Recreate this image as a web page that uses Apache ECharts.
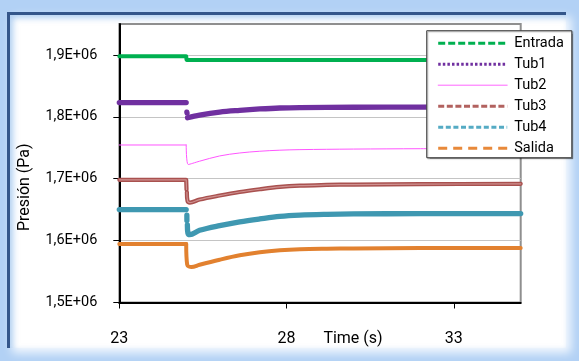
<!DOCTYPE html>
<html>
<head>
<meta charset="utf-8">
<script src="https://cdn.jsdelivr.net/npm/echarts@6/dist/echarts.min.js"></script>
<style>
  html, body { margin: 0; padding: 0; }
  #frame { position: absolute; left: 0; top: 0; width: 579px; height: 361px; background: #b2d1f5; overflow: hidden; }
  #panel { position: absolute; left: 7px; top: 12px; width: 556px; height: 333px; background: #ffffff;
           border-top: 3px solid #34568a; border-left: 3px solid #34568a;
           box-shadow: inset 3px 3px 6px rgba(110,165,230,0.55), 5px 5px 9px rgba(255,255,255,0.85); }
  #chart { position: absolute; left: 0; top: 0; width: 579px; height: 361px; }
</style>
</head>
<body>
<div id="frame"><div id="panel"></div></div>
<div id="chart"></div>
<script>
// Pressure transients (Pa) versus time (s); [t, p] pairs, null breaks the trace.
// Each trace: steady part before the valve event (straight) and the recovery after it (smoothed).
const entradaPre = [[23, 1898000], [25, 1898000], [25.01, 1892000], [35, 1892000]];
const entradaPost = [];

const tub1Pre = [[23, 1823000], [25, 1823000], [25.01, null], [25.02, 1807500], [25.025, 1806000]];
const tub1Post = [[25.04, 1798500], [25.4, 1802800], [26, 1807700], [26.6, 1810500], [27.2, 1812700],
  [27.8, 1814300], [28.4, 1815000], [30, 1815500], [32, 1815800], [35, 1816000]];

const tub2Pre = [[23, 1754500], [25, 1754500]];
const tub2Post = [[25, 1754500], [25.06, 1723000], [25.4, 1728300], [26, 1736800], [26.6, 1741600],
  [27.2, 1744400], [27.8, 1746100], [28.4, 1747000], [30, 1747900], [32, 1748500], [35, 1749000]];

const tub3Pre = [[23, 1698200], [25, 1698200], [25.01, 1682500]];
const tub3Post = [[25.02, 1678500], [25.04, 1664000], [25.11, 1661500], [25.4, 1666300], [26, 1672800],
  [26.6, 1678500], [27.2, 1683000], [27.8, 1686800], [28.4, 1688800], [29.2, 1689900], [30, 1690600],
  [32, 1691300], [35, 1691700]];

const tub4Pre = [[23, 1650100], [25, 1650100], [25.01, null], [25.02, 1641000], [25.021, 1632500]];
const tub4Post = [[25.035, 1625500], [25.05, 1612500], [25.11, 1609600], [25.4, 1616600], [26, 1624200],
  [26.6, 1630200], [27.2, 1635000], [27.8, 1639200], [28.4, 1641300], [29.2, 1642500], [30, 1643100],
  [32, 1643600], [35, 1643700]];

const salidaPre = [[23, 1594600], [25, 1594600]];
const salidaPost = [[25, 1594600], [25.03, 1561000], [25.16, 1557300], [25.4, 1561000], [26, 1569100],
  [26.6, 1576200], [27.2, 1581200], [27.8, 1584300], [28.4, 1586000], [29.2, 1586900], [30, 1587400],
  [32, 1587900], [35, 1588100]];

const seriesNames = ['Entrada', 'Tub1', 'Tub2', 'Tub3', 'Tub4', 'Salida'];
const xTicks = [23, 28, 33];
const yTicks = [1500000, 1600000, 1700000, 1800000, 1900000];

const chart = echarts.init(document.getElementById('chart'), null, { renderer: 'canvas' });
const font = 'Roboto';

function line(name, data, color, width, smooth, z) {
  return {
    name: name, type: 'line', data: data, symbol: 'none', connectNulls: false,
    smooth: smooth, animation: false, z: z || 2,
    lineStyle: { color: color, width: width, cap: 'round', join: 'round' },
    itemStyle: { color: color }
  };
}
function trace(name, pre, post, color, width) {
  const out = [line(name, pre, color, width, false)];
  if (post.length) out.push(line(name, post, color, width, 0.35));
  return out;
}

const tub3Core = 'rgba(214,158,156,0.85)';

chart.setOption({
  backgroundColor: 'transparent',
  animation: false,
  grid: { left: 119.3, right: 58.3, top: 24, bottom: 58.5, show: true, outerBoundsMode: 'none',
          borderColor: '#8f8f8f', borderWidth: 2, backgroundColor: 'transparent' },
  xAxis: {
    type: 'value', min: 23, max: 35,
    name: 'Time (s)', nameLocation: 'middle', nameGap: 28, nameMoveOverlap: false,
    nameTextStyle: { fontFamily: font, fontSize: 16, color: '#000', padding: [0, 0, 0, 66] },
    axisLine: { lineStyle: { color: '#000', width: 2 } },
    axisTick: { show: true, length: 6, customValues: xTicks, lineStyle: { color: '#000', width: 1 } },
    axisLabel: { customValues: xTicks, margin: 28, fontFamily: font, fontSize: 16, color: '#000' },
    splitLine: { show: false }
  },
  yAxis: {
    type: 'value', min: 1500000, max: 1950000, interval: 100000,
    name: 'Presión (Pa)', nameLocation: 'middle', nameGap: 86, nameRotate: 90, nameMoveOverlap: false,
    nameTextStyle: { fontFamily: font, fontSize: 16, color: '#000', padding: [0, 48, 0, 0] },
    axisLine: { show: true, lineStyle: { color: '#000', width: 2 } },
    axisTick: { show: true, length: 6, customValues: yTicks, lineStyle: { color: '#000', width: 1 } },
    axisLabel: {
      customValues: yTicks, margin: 22, fontFamily: font, fontSize: 14.5, color: '#000',
      formatter: v => (v / 1e6).toFixed(1).replace('.', ',') + 'E+06'
    },
    splitLine: { show: true, lineStyle: { color: '#c4c4c4', width: 1 } }
  },
  legend: {
    orient: 'vertical', left: 426.7, top: 30.7,
    padding: [5, 8, 2, 10], itemGap: 6, itemWidth: 69, itemHeight: 15,
    backgroundColor: '#ffffff', borderColor: '#404040', borderWidth: 1,
    shadowColor: 'rgba(0,0,0,0.35)', shadowBlur: 1, shadowOffsetX: 1, shadowOffsetY: 1,
    itemStyle: { opacity: 0 },
    textStyle: { fontFamily: font, fontSize: 14.5, color: '#000', padding: [0, 0, 0, 2] },
    data: [
      { name: seriesNames[0], lineStyle: { type: [7, 3], width: 3, cap: 'butt' } },
      { name: seriesNames[1], lineStyle: { type: [2.5, 2.1], width: 3, cap: 'butt' } },
      { name: seriesNames[2], lineStyle: { type: 'solid', width: 1, color: '#ff66ff' } },
      { name: seriesNames[3], lineStyle: { type: [6, 2.6], width: 3, cap: 'butt', color: '#b2625f' } },
      { name: seriesNames[4], lineStyle: { type: [5, 2.6], width: 3, cap: 'butt', color: '#55abc4' } },
      { name: seriesNames[5], lineStyle: { type: [9, 6], width: 3, cap: 'butt', color: '#e8893a' } }
    ]
  },
  series: [].concat(
    trace(seriesNames[0], entradaPre, entradaPost, '#00b050', 4),
    trace(seriesNames[1], tub1Pre, tub1Post, '#7030a0', 5.3),
    trace(seriesNames[2], tub2Pre, tub2Post, '#ff55ff', 1),
    trace(seriesNames[3], tub3Pre, tub3Post, '#a9514f', 4.2),
    [line('Tub3 core', tub3Pre, tub3Core, 1.2, false, 3), line('Tub3 core', tub3Post, tub3Core, 1.2, 0.35, 3)]
      .map(s => Object.assign(s, { silent: true })),
    trace(seriesNames[4], tub4Pre, tub4Post, '#3f98b1', 5.3),
    trace(seriesNames[5], salidaPre, salidaPost, '#e2812f', 4)
  )
});
</script>
</body>
</html>
